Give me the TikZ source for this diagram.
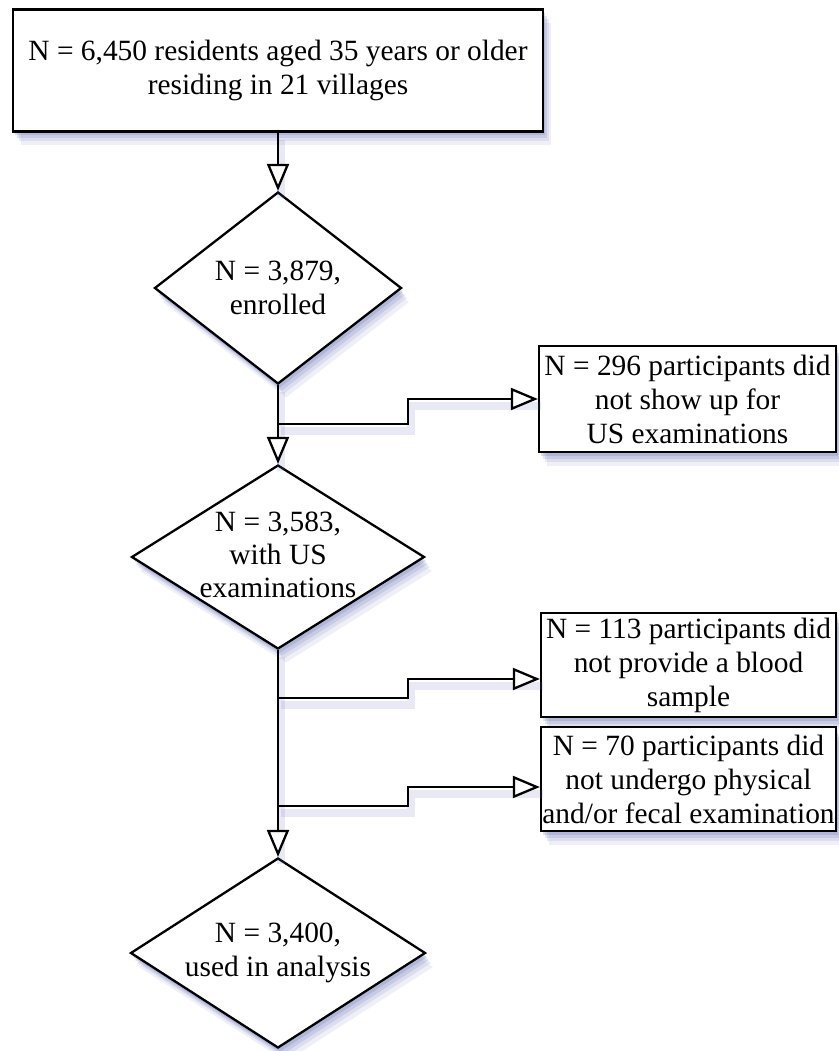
\documentclass[tikz,border=0pt]{standalone}
\usepackage{fontspec}
\setmainfont{Liberation Serif}
\usetikzlibrary{arrows.meta,shapes.geometric,shadows}
\definecolor{shc}{RGB}{100,110,180}
\begin{document}
\begin{tikzpicture}[x=1pt,y=-1pt,
  font=\fontsize{29.4}{34}\selectfont,
  sh/.style={drop shadow={shadow xshift=8pt,shadow yshift=-14pt,fill=shc,opacity=.10},
             drop shadow={shadow xshift=6pt,shadow yshift=-10pt,fill=shc,opacity=.14},
             drop shadow={shadow xshift=4pt,shadow yshift=-7pt,fill=shc,opacity=.18},
             drop shadow={shadow xshift=2pt,shadow yshift=-4pt,fill=shc,opacity=.22}},
  boxnode/.style={draw,line width=2.3pt,fill=white,rectangle,inner sep=0pt,align=center,sh},
  dia/.style={draw,line width=2.3pt,fill=white,diamond,inner sep=0pt,sh},
  dtext/.style={align=center,inner sep=0pt},
  conn/.style={line width=2.3pt,-{Triangle[open,length=27pt,width=22pt,fill=white]},
     preaction={draw=shc,-,opacity=.15,line width=8pt,transform canvas={xshift=3pt,yshift=-7pt}}}]
\useasboundingbox (0,0) rectangle (838,1051);

\node[boxnode,minimum width=530pt,minimum height=122pt] (top) at (278,70.5)
  {N = 6,450 residents aged 35 years or older\\residing in 21 villages};

\node[dia,minimum width=247pt,minimum height=192pt] (d1) at (278,288) {};
\node[dtext] (t1) at (d1.center) {N = 3,879,\\enrolled};

\node[boxnode,minimum width=297pt,minimum height=106pt] (b2) at (687.5,399)
  {N = 296 participants did\\not show up for\\US examinations};

\node[dia,minimum width=293pt,minimum height=184pt] (d2) at (278,557) {};
\node[dtext,font=\fontsize{29.4}{33}\selectfont] (t2) at ([yshift=2pt]d2.center) {N = 3,583,\\with US\\examinations};

\node[boxnode,minimum width=295pt,minimum height=104pt] (b3) at (688.5,665)
  {N = 113 participants did\\not provide a blood\\sample};

\node[boxnode,minimum width=295pt,minimum height=104pt] (b4) at (688.5,779)
  {N = 70 participants did\\not undergo physical\\and/or fecal examination};

\node[dia,minimum width=295pt,minimum height=190pt] (d3) at (278,953) {};
\node[dtext] (t3) at (d3.center) {N = 3,400,\\used in analysis};

\draw[conn] (top.south) -- (d1.north);
\draw[conn] (d1.south) -- (d2.north);
\draw[conn] (d2.south) -- (d3.north);

\coordinate (j1) at (278,424);
\coordinate (k1) at (408,424);
\draw[conn] (j1) -- (k1) |- (b2.west);

\coordinate (j2) at (278,698);
\coordinate (k2) at (408,698);
\coordinate (e2) at ([yshift=-14pt]b3.west);
\draw[conn] (j2) -- (k2) |- (e2);

\coordinate (j3) at (278,806);
\coordinate (k3) at (408,806);
\coordinate (e3) at ([yshift=-8pt]b4.west);
\draw[conn] (j3) -- (k3) |- (e3);
\end{tikzpicture}
\end{document}
